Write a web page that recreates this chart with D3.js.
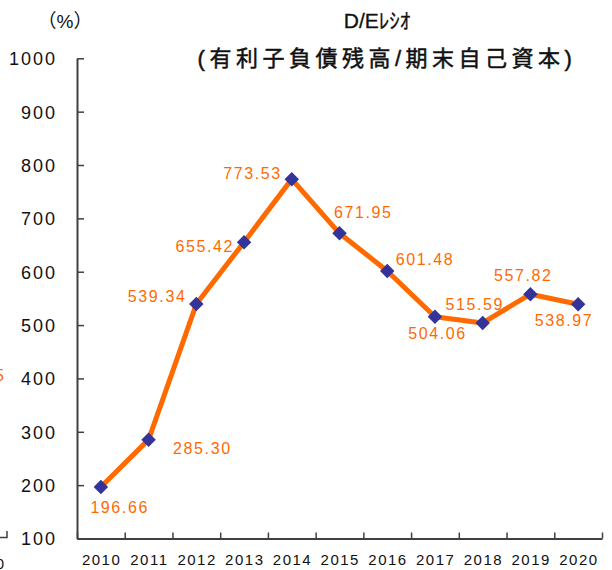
<!DOCTYPE html>
<html><head><meta charset="utf-8">
<script src="https://cdn.jsdelivr.net/npm/d3@7"></script>
<style>
html,body{margin:0;padding:0;background:#fff;}
svg{display:block;}
</style></head>
<body>
<svg id="chart" width="612" height="570"></svg>
<script>
// ---- data ----
const years = ["2010","2011","2012","2013","2014","2015","2016","2017","2018","2019","2020"];
const deRatio = [196.66, 285.30, 539.34, 655.42, 773.53, 671.95, 601.48, 515.59, 504.06, 557.82, 538.97];
const yTicks = [100, 200, 300, 400, 500, 600, 700, 800, 900, 1000];
const titleLine1 = "D/Eﾚｼｵ";
const titleLine2 = "(有利子負債残高/期末自己資本)";
const unitLabel = "（%）";
// label offsets (px) relative to each marker: [dx of label centre, dy of baseline]
const labelOffsets = [[18,26],[53,14],[-40,-2],[-40,10],[-40,0],[23,-15],[37,-6],[39,-7],[-46,16],[-8,-13],[-15,22]];

const svg = d3.select("#chart");
const plotLeft = 77, plotRight = 602, plotTop = 58.3, plotBottom = 538.5;
const x = d3.scaleBand().domain(years).range([plotLeft, plotRight]).padding(0);
const xb = d3.scaleLinear().domain([0, years.length]).range([plotLeft, plotRight]);
const y = d3.scaleLinear().domain([100, 1000]).range([plotBottom, plotTop]);
const numFont = "'Liberation Sans', Arial, sans-serif";
const axisColor = "#404040";

// y axis
const gy = svg.append("g").attr("transform", `translate(${plotLeft},0)`)
  .call(d3.axisLeft(y).tickValues(yTicks).tickSizeInner(-7).tickSizeOuter(0).tickPadding(20).tickFormat(d3.format("d")));
gy.select(".domain").attr("stroke", axisColor).attr("stroke-width", 2);
gy.selectAll(".tick line").attr("stroke", axisColor).attr("stroke-width", 1.5);
gy.selectAll(".tick text").attr("fill", "#111").style("font-family", numFont)
  .style("font-size", "18px").style("letter-spacing", "2px").attr("dy", "0.36em");

// x axis: boundary ticks
const gxb = svg.append("g").attr("transform", `translate(0,${plotBottom})`)
  .call(d3.axisBottom(xb).tickValues(d3.range(0, years.length + 1)).tickSizeInner(-6).tickSizeOuter(0).tickFormat(""));
gxb.select(".domain").attr("stroke", axisColor).attr("stroke-width", 2);
gxb.selectAll(".tick line").attr("stroke", axisColor).attr("stroke-width", 1.5);
// x axis: category labels
const gx = svg.append("g").attr("transform", `translate(0,${plotBottom})`)
  .call(d3.axisBottom(x).tickSize(0).tickPadding(16));
gx.select(".domain").remove();
gx.selectAll(".tick text").attr("fill", "#111").style("font-family", numFont)
  .style("font-size", "15px").style("letter-spacing", "1.5px").attr("dx", "0.75px");

// line
const pts = years.map((yr, i) => ({yr, v: deRatio[i], i}));
const cx = d => x(d.yr) + x.bandwidth() / 2;
const line = d3.line().x(cx).y(d => y(d.v));
svg.append("path").datum(pts).attr("d", line).attr("fill", "none")
  .attr("stroke", "#FF6A00").attr("stroke-width", 5).attr("stroke-linejoin", "round");

// markers (diamonds)
svg.selectAll("path.mk").data(pts).join("path").attr("class", "mk")
  .attr("d", d3.symbol(d3.symbolSquare, 105))
  .attr("transform", d => `translate(${cx(d)},${y(d.v)}) rotate(45)`)
  .attr("fill", "#333399");

// data labels
svg.selectAll("text.lbl").data(pts).join("text").attr("class", "lbl")
  .attr("x", d => cx(d) + labelOffsets[d.i][0] + 0.8)
  .attr("y", d => y(d.v) + labelOffsets[d.i][1])
  .attr("text-anchor", "middle").attr("fill", "#FF6A00")
  .style("font-family", numFont).style("font-size", "16px").style("letter-spacing", "1.6px")
  .text(d => d3.format(".2f")(d.v));

// titles
const jp = "'Liberation Sans', 'Noto Sans CJK JP', sans-serif";
svg.append("text").attr("x", 377).attr("y", 28).attr("text-anchor", "middle")
  .style("font-family", jp).style("font-size", "21px").attr("fill", "#111")
  .attr("stroke", "#111").attr("stroke-width", 0.3).text(titleLine1);
svg.append("text").attr("x", 387).attr("y", 66).attr("text-anchor", "middle")
  .style("font-family", jp).style("font-size", "22px").style("letter-spacing", "4.5px")
  .attr("stroke", "#111").attr("stroke-width", 0.5)
  .attr("fill", "#111").text(titleLine2);
svg.append("text").attr("x", 65).attr("y", 28).attr("text-anchor", "middle")
  .style("font-family", jp).style("font-size", "19px").attr("fill", "#111").text(unitLabel);

// clipped fragments of the neighbouring chart at the left edge
svg.append("text").attr("x", 4).attr("y", 381).attr("text-anchor", "end").attr("fill", "#FF6A00")
  .style("font-family", numFont).style("font-size", "16px").text("5");
svg.append("path").attr("d", "M0,537.5H7V531").attr("fill", "none").attr("stroke", axisColor).attr("stroke-width", 1.5);
svg.append("text").attr("x", 4).attr("y", 569).attr("text-anchor", "end").attr("fill", "#111")
  .style("font-family", numFont).style("font-size", "15px").text("0");
</script>
</body></html>
